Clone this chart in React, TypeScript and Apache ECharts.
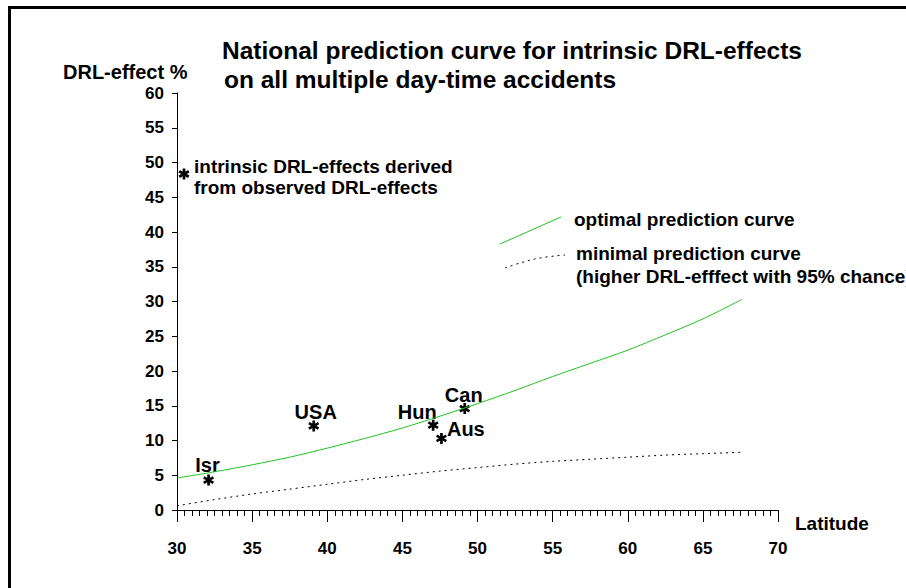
import React, { useEffect, useRef } from "react";
import * as echarts from "echarts";

const FONT = "Liberation Sans, Arial, sans-serif";

const titleLines = [
  "National prediction curve for intrinsic DRL-effects",
  "on all multiple day-time accidents",
];
const yAxisName = "DRL-effect %";
const xAxisName = "Latitude";

// optimal prediction curve (latitude, DRL-effect %)
const optimalLat = [30, 32.5, 35, 37.5, 40, 42.5, 45, 47.5, 50, 52.5, 55, 57.5, 60, 62.5, 65, 67.6];
const optimalVal = [4.6, 5.5, 6.5, 7.6, 8.9, 10.3, 11.8, 13.5, 15.3, 17.2, 19.2, 21.1, 23.0, 25.2, 27.5, 30.3];

// minimal prediction curve
const minimalLat = [30, 32.5, 35, 37.5, 40, 42.5, 45, 47.5, 50, 52.5, 55, 57.5, 60, 62.5, 65, 67.5];
const minimalVal = [0.6, 1.5, 2.3, 3.0, 3.7, 4.4, 5.0, 5.6, 6.1, 6.6, 7.0, 7.3, 7.6, 7.9, 8.1, 8.3];

// observed countries
const countries = ["Isr", "USA", "Hun", "Aus", "Can"];
const countryLat = [32.1, 39.1, 47.05, 47.6, 49.15];
const countryVal = [4.3, 12.1, 12.2, 10.3, 14.6];

const legendTexts = {
  star: ["intrinsic DRL-effects derived", "from observed DRL-effects"],
  optimal: "optimal prediction curve",
  minimal: ["minimal prediction curve", "(higher DRL-efffect with 95% chance)"],
};

// asterisk outline: three bars through the centre of a 10x10 box
function asteriskPath(): string {
  const r = 5;
  const w = 1.2;
  const parts: string[] = [];
  for (const deg of [0, 60, 120]) {
    const t = (deg * Math.PI) / 180;
    const dx = Math.sin(t), dy = -Math.cos(t);
    const nx = Math.cos(t), ny = Math.sin(t);
    const pts = [
      [5 + r * dx + w * nx, 5 + r * dy + w * ny],
      [5 - r * dx + w * nx, 5 - r * dy + w * ny],
      [5 - r * dx - w * nx, 5 - r * dy - w * ny],
      [5 + r * dx - w * nx, 5 + r * dy - w * ny],
    ];
    parts.push(
      "M" + pts.map((p) => p[0].toFixed(2) + "," + p[1].toFixed(2)).join(" L") + " Z"
    );
  }
  return parts.join(" ");
}
const AST_D = asteriskPath();
echarts.graphic.registerShape("asterisk", echarts.graphic.extendPath(AST_D, {}) as any);

function labelFor(name: string) {
  const base = {
    show: true,
    formatter: name,
    color: "#000",
    opacity: 1,
    fontFamily: FONT,
    fontWeight: "bold" as const,
    fontSize: 20,
  };
  switch (name) {
    case "Isr":
      return { ...base, position: "top", distance: 0, offset: [-1, 0] };
    case "USA":
      return { ...base, position: "top", distance: -2, offset: [2, 0] };
    case "Hun":
      return { ...base, position: "top", distance: -2, offset: [-16, 0] };
    case "Aus":
      return { ...base, position: "right", distance: 0, offset: [0, -9] };
    case "Can":
      return { ...base, position: "top", distance: -2, offset: [-1, 0] };
    default:
      return base;
  }
}

export default function App() {
  const ref = useRef<HTMLDivElement>(null);
  useEffect(() => {
    if (!ref.current) return;
    const chart = echarts.init(ref.current, null, { renderer: "svg" });
    const txt = (text: string, x: number, y: number, size: number, extra: any = {}) => ({
      type: "text",
      x,
      y,
      style: {
        text,
        fill: "#000",
        fontFamily: FONT,
        fontWeight: "bold",
        fontSize: size,
        verticalAlign: "middle",
        ...extra,
      },
    });
    chart.setOption({
      animation: false,
      backgroundColor: "#fff",
      grid: { left: 177, right: 128, top: 93, bottom: 78, containLabel: false },
      xAxis: {
        type: "value",
        min: 30,
        max: 70,
        interval: 5,
        axisLine: { show: true, lineStyle: { color: "#000", width: 1 } },
        axisTick: { show: true, length: 12, lineStyle: { color: "#000" } },
        minorTick: { show: true, splitNumber: 10, length: 6, lineStyle: { color: "#000" } },
        axisLabel: { color: "#000", fontFamily: FONT, fontWeight: "bold", fontSize: 17, margin: 30 },
        splitLine: { show: false },
      },
      yAxis: {
        type: "value",
        min: 0,
        max: 60,
        interval: 5,
        axisLine: { show: true, lineStyle: { color: "#000", width: 1 } },
        axisTick: { show: true, length: 5, lineStyle: { color: "#000" } },
        axisLabel: { color: "#000", fontFamily: FONT, fontWeight: "bold", fontSize: 17, margin: 13 },
        splitLine: { show: false },
      },
      series: [
        {
          type: "line",
          data: optimalLat.map((x, i) => [x, optimalVal[i]]),
          showSymbol: false,
          smooth: 0.3,
          lineStyle: { color: "#22c322", width: 1 },
        },
        {
          type: "line",
          data: minimalLat.map((x, i) => [x, minimalVal[i]]),
          showSymbol: false,
          smooth: 0.3,
          lineStyle: { color: "#000", width: 1, type: [2, 4] },
        },
        {
          type: "scatter",
          symbol: "path://" + AST_D,
          symbolSize: 11,
          itemStyle: { color: "#000", opacity: 1 },
          data: countries.map((c, i) => ({
            name: c,
            value: [countryLat[i], countryVal[i]],
            label: labelFor(c),
          })),
        },
      ],
      graphic: [
        { type: "rect", shape: { x: 8, y: 6, width: 898, height: 3 }, style: { fill: "#000" } },
        { type: "rect", shape: { x: 8, y: 6, width: 3, height: 582 }, style: { fill: "#000" } },
        txt(titleLines[0], 222, 50, 24.5),
        txt(titleLines[1], 224, 79, 24.5),
        txt(yAxisName, 63, 72, 20),
        txt(xAxisName, 795, 523, 19),
        {
          type: "asterisk",
          x: 178.5,
          y: 168.5,
          scaleX: 1.1,
          scaleY: 1.1,
          style: { fill: "#000" },
        },
        txt(legendTexts.star[0], 194, 166, 19),
        txt(legendTexts.star[1], 194, 187, 19),
        {
          type: "line",
          shape: { x1: 500, y1: 244, x2: 561, y2: 217 },
          style: { stroke: "#22c322", lineWidth: 1 },
        },
        txt(legendTexts.optimal, 574, 219, 19),
        {
          type: "polyline",
          shape: { points: [[505, 268], [520, 263], [540, 258], [565, 255]], smooth: 0.4 },
          style: { stroke: "#000", lineWidth: 1, lineDash: [2, 4], fill: "none" },
        },
        txt(legendTexts.minimal[0], 576, 253, 19),
        txt(legendTexts.minimal[1], 576, 276, 19),
      ],
    });
    return () => chart.dispose();
  }, []);
  return (
    <div
      ref={ref}
      style={{ position: "absolute", left: 0, top: 0, width: 906, height: 588 }}
    />
  );
}
